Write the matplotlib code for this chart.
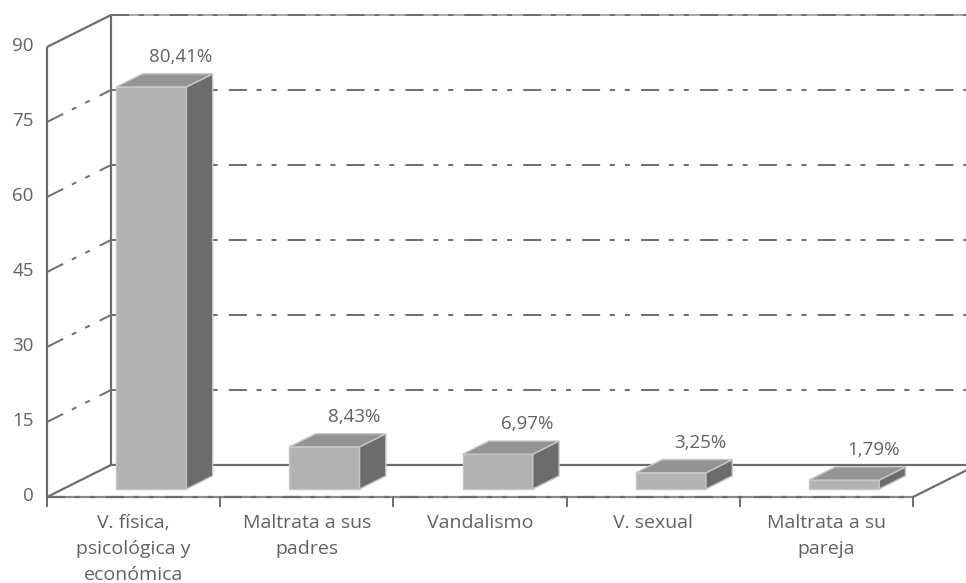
import matplotlib.pyplot as plt
from matplotlib.patches import Polygon

plt.rcParams['font.family'] = ['Open Sans', 'DejaVu Sans']
plt.rcParams['lines.scale_dashes'] = False

# datos
categorias = ["V. física,\npsicológica y\neconómica", "Maltrata a sus\npadres",
              "Vandalismo", "V. sexual", "Maltrata a su\npareja"]
porcentajes = [80.41, 8.43, 6.97, 3.25, 1.79]
escala = [0, 15, 30, 45, 60, 75, 90]

# perspectiva oblicua: profundidad total del suelo en unidades de datos
DX, DY = 0.3695, 6.4
# posicion de las barras dentro de cada categoria
centro, semiancho = 0.51, 0.2025
d_frente, d_fondo = 0.25, 0.66

linea = '#6e6e70'
texto = '#626264'
rayas = (0, (13, 7, 3.6, 7.2, 3.6, 8))


def p(x, v, d):
    return (x + d * DX, v + d * DY)


fig = plt.figure(figsize=(9.66, 5.83), dpi=100)
ax = fig.add_axes([0, 0, 1, 1])
ax.set_xlim(-47 / 173.2, (966 - 47) / 173.2)
ax.set_ylim(-86 / 5, 497 / 5)
ax.axis('off')

n = len(categorias)
vmax = escala[-1]

# pared del fondo: lineas de rejilla
for v in escala[1:]:
    a, b = p(0, v, 1), p(n, v, 1)
    if v == vmax:
        ax.plot([a[0], b[0]], [a[1], b[1]], color='#a8a8aa', lw=1.4, zorder=1)
    ax.plot([a[0], b[0]], [a[1], b[1]], color=linea, lw=1.4, ls=rayas, zorder=1)
# pared lateral: rejilla en diagonal
for v in escala[1:-1]:
    a, b = p(0, v, 0), p(0, v, 1)
    ax.plot([a[0], b[0]], [a[1], b[1]], color=linea, lw=1.4, ls=rayas, zorder=1)

# bordes de paredes y suelo
bordes = [
    [p(0, 0, 0), p(0, vmax, 0)],
    [p(0, vmax, 0), p(0, vmax, 1)],
    [p(0, 0, 1), p(0, vmax, 1)],
    [p(0, 0, 0), p(0, 0, 1)],
    [p(0, 0, 1), p(n, 0, 1)],
    [p(n, 0, 0), p(n, 0, 1)],
]
for (a, b) in bordes:
    ax.plot([a[0], b[0]], [a[1], b[1]], color=linea, lw=1.6, zorder=2,
            solid_capstyle='butt')
# borde delantero del suelo, claro con rayas encima
a, b = p(0, 0, 0), p(n, 0, 0)
ax.plot([a[0], b[0]], [a[1], b[1]], color='#8a8a8c', lw=1.6, zorder=2)
ax.plot([a[0], b[0]], [a[1], b[1]], color=linea, lw=1.6, ls=rayas, zorder=2)

# marcas del eje x
for i in range(n + 1):
    ax.plot([i, i], [0, -1.8], color=linea, lw=1.4, zorder=2)

# barras
for i, v in enumerate(porcentajes):
    x0, x1 = i + centro - semiancho, i + centro + semiancho
    frente = [p(x0, 0, d_frente), p(x1, 0, d_frente), p(x1, v, d_frente), p(x0, v, d_frente)]
    lado = [p(x1, 0, d_frente), p(x1, 0, d_fondo), p(x1, v, d_fondo), p(x1, v, d_frente)]
    tapa = [p(x0, v, d_frente), p(x1, v, d_frente), p(x1, v, d_fondo), p(x0, v, d_fondo)]
    for cara, col in [(frente, '#b1b2b4'), (lado, '#6c6c6e'), (tapa, '#949496')]:
        ax.add_patch(Polygon(cara, closed=True, facecolor=col, edgecolor='#c6c6c8',
                             lw=1, zorder=3))
    etiqueta = f"{v:.2f}%".replace('.', ',')
    ax.annotate(etiqueta, xy=p(i + centro, v, d_fondo), xytext=(2.5, 12),
                textcoords='offset points', ha='center', va='center',
                fontsize=13.5, color=texto, zorder=4)

# etiquetas de categorias
for i, c in enumerate(categorias):
    ax.annotate(c, xy=(i + 0.5, 0), xytext=(0, -12.5), textcoords='offset points',
                ha='center', va='top', fontsize=14, color=texto, linespacing=1.55)

# escala del eje y
for t in escala:
    ax.annotate(str(t), xy=(0, t), xytext=(-9.5, 0.8), textcoords='offset points',
                ha='right', va='center', fontsize=13.5, color=texto)

fig.savefig('out.png', dpi=100)
